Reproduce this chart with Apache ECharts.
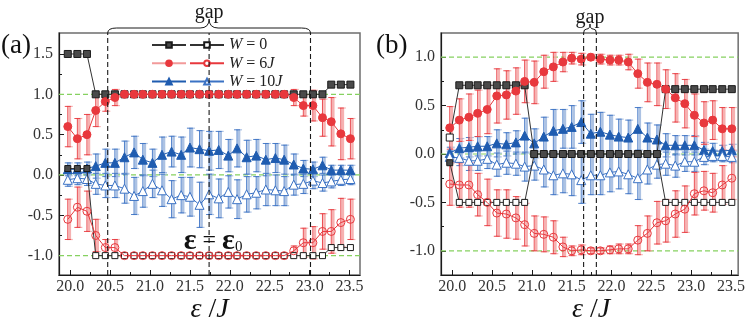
<!DOCTYPE html>
<html><head><meta charset="utf-8">
<script src="https://cdn.jsdelivr.net/npm/echarts@6/dist/echarts.min.js"></script>
<style>html,body{margin:0;padding:0;background:#fff}#c{width:748px;height:319px}</style>
</head><body><div id="c"></div>
<script>
// ---------- data ----------
const xs = [19.97, 20.09, 20.21, 20.32, 20.44, 20.56, 20.68, 20.80, 20.91, 21.03, 21.15, 21.27, 21.39, 21.50, 21.62, 21.74, 21.86, 21.98, 22.09, 22.21, 22.33, 22.45, 22.57, 22.68, 22.80, 22.92, 23.04, 23.16, 23.27, 23.39, 23.51];

// panel (a)
const a_w0_hi = [1.5,1.5,1.5, 1,1,1,1,1,1,1,1,1,1,1,1,1,1,1,1,1,1,1,1,1,1,1,1,1, 1.12,1.12,1.12];
const a_w0_lo = [0.08,0.08,0.08, -1,-1,-1,-1,-1,-1,-1,-1,-1,-1,-1,-1,-1,-1,-1,-1,-1,-1,-1,-1,-1,-1,-1,-1,-1, -0.9,-0.9,-0.9];
const a_w0_loSolid = [0,1,2];
const a_w6_hi = [0.60,0.45,0.50,0.80,0.91,0.96, 1,1,1,1,1,1,1,1,1,1,1,1,1,1,1,1,1,1, 0.96,0.86,0.86,0.71,0.66,0.51,0.45];
const a_w6_hiErr = [0.25,0.25,0.25,0.2,0.12,0.1, 0,0,0,0,0,0,0,0,0,0,0,0,0,0,0,0,0,0, 0.1,0.13,0.19,0.23,0.3,0.32,0.25];
const a_w6_lo = [-0.55,-0.40,-0.45,-0.75,-0.90,-0.90, -1,-1,-1,-1,-1,-1,-1,-1,-1,-1,-1,-1,-1,-1,-1,-1,-1,-1, -0.94,-0.84,-0.84,-0.70,-0.70,-0.59,-0.55];
const a_w6_loErr = [0.25,0.25,0.25,0.2,0.1,0.1, 0,0,0,0,0,0,0,0,0,0,0,0,0,0,0,0,0,0, 0.06,0.18,0.2,0.22,0.27,0.3,0.25];
const a_w10_hi = [0.07,0.07,0.08,0.11,0.15,0.15,0.22,0.28,0.19,0.15,0.25,0.29,0.25,0.34,0.32,0.30,0.31,0.24,0.33,0.22,0.24,0.19,0.21,0.19,0.13,0.08,0.07,0.12,0.06,0.06,0.06];
const a_w10_hiErr = [0.08,0.08,0.08,0.15,0.17,0.17,0.2,0.2,0.2,0.17,0.22,0.19,0.22,0.24,0.23,0.24,0.23,0.2,0.23,0.21,0.2,0.2,0.18,0.18,0.13,0.1,0.09,0.1,0.06,0.06,0.06];
const a_w10_lo = [-0.06,-0.04,-0.05,-0.11,-0.13,-0.13,-0.17,-0.26,-0.20,-0.11,-0.19,-0.30,-0.25,-0.27,-0.37,-0.24,-0.29,-0.21,-0.30,-0.24,-0.22,-0.18,-0.19,-0.20,-0.12,-0.11,-0.07,-0.10,-0.08,-0.06,-0.05];
const a_w10_loErr = [0.08,0.08,0.08,0.13,0.15,0.15,0.18,0.23,0.2,0.17,0.2,0.23,0.22,0.24,0.28,0.25,0.24,0.2,0.24,0.22,0.2,0.2,0.19,0.18,0.13,0.12,0.1,0.1,0.08,0.07,0.07];

// panel (b)
const b_w0_hi = [0.17, 0.71,0.71,0.71,0.71,0.71,0.71,0.71,0.71, 0,0,0,0,0,0,0,0,0,0,0,0,0,0, 0.67,0.67,0.67,0.67,0.67,0.67,0.67,0.67];
const b_w0_hiHollow = [0];
const b_w0_lo = [-0.09, -0.5,-0.5,-0.5,-0.5,-0.5,-0.5,-0.5,-0.5, 0,0,0,0,0,0,0,0,0,0,0,0,0,0, -0.5,-0.5,-0.5,-0.5,-0.5,-0.5,-0.5,-0.5];
const b_w0_loSolid = [0];
const b_w6_hi = [0.27,0.35,0.38,0.42,0.46,0.60,0.61,0.65,0.75,0.74,0.85,0.90,0.95,0.99,0.98,1.0,0.98,0.97,0.97,0.95,0.83,0.74,0.72,0.67,0.58,0.52,0.40,0.32,0.35,0.26,0.26];
const b_w6_hiErr = [0.22,0.22,0.24,0.24,0.25,0.28,0.25,0.24,0.22,0.22,0.17,0.15,0.1,0.06,0.06,0.03,0.05,0.05,0.05,0.08,0.15,0.2,0.22,0.2,0.25,0.25,0.22,0.22,0.2,0.22,0.22];
const b_w6_lo = [-0.31,-0.32,-0.32,-0.42,-0.50,-0.61,-0.62,-0.66,-0.73,-0.82,-0.83,-0.86,-0.96,-1.0,-0.99,-1.0,-1.0,-0.99,-0.98,-0.98,-0.89,-0.82,-0.71,-0.69,-0.62,-0.57,-0.41,-0.38,-0.40,-0.32,-0.25];
const b_w6_loErr = [0.22,0.23,0.23,0.22,0.24,0.24,0.25,0.22,0.22,0.18,0.18,0.17,0.1,0.05,0.05,0.03,0.03,0.04,0.05,0.05,0.15,0.18,0.22,0.22,0.24,0.24,0.22,0.2,0.2,0.2,0.22];
const b_w10_hi = [0.01,0.06,0.07,0.08,0.08,0.11,0.10,0.12,0.19,0.11,0.18,0.24,0.26,0.28,0.33,0.21,0.23,0.20,0.18,0.17,0.26,0.17,0.15,0.09,0.09,0.09,0.09,0.04,0.03,0.03,0.04];
const b_w10_hiErr = [0.06,0.1,0.1,0.1,0.1,0.14,0.12,0.12,0.18,0.15,0.2,0.22,0.2,0.22,0.22,0.2,0.2,0.2,0.18,0.18,0.22,0.15,0.15,0.12,0.1,0.1,0.1,0.08,0.08,0.06,0.06];
const b_w10_lo = [-0.03,-0.04,-0.07,-0.07,-0.05,-0.11,-0.09,-0.10,-0.13,-0.12,-0.16,-0.22,-0.20,-0.21,-0.27,-0.22,-0.22,-0.19,-0.18,-0.21,-0.25,-0.16,-0.11,-0.10,-0.12,-0.08,-0.08,-0.03,-0.02,-0.02,-0.03];
const b_w10_loErr = [0.06,0.08,0.1,0.1,0.1,0.12,0.12,0.12,0.15,0.15,0.18,0.2,0.2,0.22,0.24,0.2,0.2,0.2,0.18,0.2,0.22,0.15,0.14,0.12,0.12,0.1,0.1,0.08,0.06,0.06,0.06];

// ticks and annotations
const xMajor = [20.0,20.5,21.0,21.5,22.0,22.5,23.0,23.5];
const xMinor = [20.25,20.75,21.25,21.75,22.25,22.75,23.25];
const aYMajor = [-1.0,-0.5,0.0,0.5,1.0,1.5];
const aYMinor = [-0.75,-0.25,0.25,0.75,1.25];
const bYMajor = [-1.0,-0.5,0.0,0.5,1.0];
const bYMinor = [-0.75,-0.25,0.25,0.75];
const refLevels = [-1.0, 0.0, 1.0];
const aVLines = [20.47, 21.74, 23.01];
const bVLines = [21.65, 21.81];
const aGap = [20.47, 23.01];
const bGap = [21.65, 21.81];
const aEpsLabel = [21.79, -0.82];
const legendLabels = ['{i|W} = 0', '{i|W} = 6{i|J}', '{i|W} = 10{i|J}'];
const panelLabels = ['(a)', '(b)'];

// ---------- style ----------
const FONT = '"Liberation Serif","DejaVu Serif",serif';
const C = {
  blk: '#4a4a4a', blkLine: '#333', blkEdge: '#1a1a1a',
  red: '#e8383d', redLight: '#f4a3a3', redLegend: '#f29a9a',
  blue: '#1f5cb0', blueLight: '#9db7de', blueOpen: '#3b72c4',
  green: '#86d160', dash: '#1a1a1a'
};

const panels = [
  {xMin:19.86, xMax:23.63, yMin:-1.24, yMax:1.76, yMajor:aYMajor, yMinor:aYMinor, vlines:aVLines,
   w0:[a_w0_hi, a_w0_lo], w0hiHollow:[], w0loSolid:a_w0_loSolid,
   w6:[a_w6_hi, a_w6_hiErr, a_w6_lo, a_w6_loErr], w10:[a_w10_hi, a_w10_hiErr, a_w10_lo, a_w10_loErr]},
  {xMin:19.86, xMax:23.59, yMin:-1.25, yMax:1.25, yMajor:bYMajor, yMinor:bYMinor, vlines:bVLines,
   w0:[b_w0_hi, b_w0_lo], w0hiHollow:b_w0_hiHollow, w0loSolid:b_w0_loSolid,
   w6:[b_w6_hi, b_w6_hiErr, b_w6_lo, b_w6_loErr], w10:[b_w10_hi, b_w10_hiErr, b_w10_lo, b_w10_loErr]}
];
const gridsPos = [{left:59, top:33, width:301, height:242}, {left:441, top:33, width:300, height:242}];

const grid = [], xAxis = [], yAxis = [], series = [];
const fmt = v => Number(v).toFixed(1);

panels.forEach((p, gi) => {
  const pre = gi === 0 ? 'a' : 'b';
  grid.push(Object.assign({show:true, borderColor:'#6e6e6e', borderWidth:1.5, backgroundColor:'transparent'}, gridsPos[gi]));
  xAxis.push({type:'value', gridIndex:gi, min:p.xMin, max:p.xMax, position:'bottom',
    axisLine:{show:true, onZero:false, lineStyle:{color:'#1a1a1a', width:1.2}},
    axisTick:{show:true, inside:true, length:5, customValues:xMajor, lineStyle:{color:'#1a1a1a'}},
    axisLabel:{customValues:xMajor, formatter:fmt, fontFamily:FONT, fontSize:16, color:'#333', margin:4},
    splitLine:{show:false}});
  xAxis.push({type:'value', gridIndex:gi, min:p.xMin, max:p.xMax, position:'bottom',
    axisLine:{show:false, onZero:false}, axisTick:{show:true, inside:true, length:3, customValues:xMinor, lineStyle:{color:'#1a1a1a'}},
    axisLabel:{show:false}, splitLine:{show:false}});
  yAxis.push({type:'value', gridIndex:gi, min:p.yMin, max:p.yMax, position:'left',
    axisLine:{show:true, onZero:false, lineStyle:{color:'#1a1a1a', width:1.2}},
    axisTick:{show:true, inside:true, length:5, customValues:p.yMajor, lineStyle:{color:'#1a1a1a'}},
    axisLabel:{customValues:p.yMajor, formatter:fmt, fontFamily:FONT, fontSize:16, color:'#333', margin:6},
    splitLine:{show:false}});
  yAxis.push({type:'value', gridIndex:gi, min:p.yMin, max:p.yMax, position:'left', offset:0,
    axisLine:{show:false, onZero:false}, axisTick:{show:true, inside:true, length:3, customValues:p.yMinor, lineStyle:{color:'#1a1a1a'}},
    axisLabel:{show:false}, splitLine:{show:false}});

  const xi = gi*2, yi = gi*2;
  // green reference levels
  series.push({type:'custom', xAxisIndex:xi, yAxisIndex:yi, z:1, silent:true, clip:true,
    data: refLevels.map(y => [p.xMin, y]),
    renderItem:(params, api) => { const y = api.value(1); const a = api.coord([p.xMin, y]), b = api.coord([p.xMax, y]);
      return {type:'line', shape:{x1:a[0], y1:a[1], x2:b[0], y2:b[1]}, style:{stroke:C.green, lineWidth:1.2, lineDash:[5,3]}}; }});

  const errSeries = (ys, es, thin, thick) => ({type:'custom', xAxisIndex:xi, yAxisIndex:yi, z:2, silent:true, clip:true,
    data: xs.map((x,i) => [x, ys[i], es[i]]),
    renderItem:(params, api) => {
      const x = api.value(0), y = api.value(1), e = api.value(2);
      if (!(e > 0)) return null;
      const t = api.coord([x, y+e]), b = api.coord([x, y-e]);
      const o = 2;
      return {type:'group', children:[
        {type:'line', shape:{x1:t[0]+o, y1:t[1], x2:b[0]+o, y2:b[1]}, style:{stroke:thick, lineWidth:2.6, opacity:0.85}},
        {type:'line', shape:{x1:t[0]+o-3, y1:t[1], x2:t[0]+o+3, y2:t[1]}, style:{stroke:thick, lineWidth:1.2, opacity:0.85}},
        {type:'line', shape:{x1:b[0]+o-3, y1:b[1], x2:b[0]+o+3, y2:b[1]}, style:{stroke:thick, lineWidth:1.2, opacity:0.85}},
        {type:'line', shape:{x1:t[0], y1:t[1], x2:b[0], y2:b[1]}, style:{stroke:thin, lineWidth:0.9}},
        {type:'line', shape:{x1:t[0]-3, y1:t[1], x2:t[0]+3, y2:t[1]}, style:{stroke:thin, lineWidth:0.9}},
        {type:'line', shape:{x1:b[0]-3, y1:b[1], x2:b[0]+3, y2:b[1]}, style:{stroke:thin, lineWidth:0.9}}
      ]};
    }});
  series.push(errSeries(p.w10[0], p.w10[1], C.blueOpen, C.blueLight));
  series.push(errSeries(p.w10[2], p.w10[3], C.blueOpen, C.blueLight));
  series.push(errSeries(p.w6[0], p.w6[1], C.red, C.redLight));
  series.push(errSeries(p.w6[2], p.w6[3], C.red, C.redLight));

  const lineS = (name, ys, symbol, size, lineColor, itemStyle, z, overrides) => ({
    type:'line', name, xAxisIndex:xi, yAxisIndex:yi, z, symbol, symbolSize:size, showAllSymbol:true,
    animation:false, lineStyle:{color:lineColor, width:1}, itemStyle,
    data: xs.map((x,i) => overrides && overrides[i] ? {value:[x, ys[i]], itemStyle:overrides[i]} : [x, ys[i]])
  });
  const ov = (idxs, style) => { const o = {}; idxs.forEach(i => o[i] = style); return o; };

  series.push(lineS(pre+'_w10f', p.w10[0], 'triangle', 9, C.blue, {color:C.blue, borderColor:C.blue, borderWidth:1}, 3));
  series.push(lineS(pre+'_w10o', p.w10[2], 'triangle', 9, C.blueOpen, {color:'#fff', borderColor:C.blueOpen, borderWidth:1}, 3));
  series.push(lineS(pre+'_w0o', p.w0[1], 'rect', 6, C.blkLine, {color:'#fff', borderColor:C.blkEdge, borderWidth:1}, 4,
    ov(p.w0loSolid, {color:C.blk, borderColor:C.blkEdge, borderWidth:1})));
  series.push(lineS(pre+'_w0f', p.w0[0], 'rect', 7, C.blkLine, {color:C.blk, borderColor:C.blkEdge, borderWidth:1}, 4,
    ov(p.w0hiHollow, {color:'#fff', borderColor:C.blkEdge, borderWidth:1})));
  series.push(lineS(pre+'_w6f', p.w6[0], 'circle', 8, C.red, {color:C.red, borderColor:C.red, borderWidth:1}, 5));
  series.push(lineS(pre+'_w6o', p.w6[2], 'circle', 8, C.red, {color:'rgba(255,255,255,0)', borderColor:C.red, borderWidth:1}, 5));

  // vertical gap lines (on top)
  series.push({type:'custom', xAxisIndex:xi, yAxisIndex:yi, z:6, silent:true, clip:true,
    data: p.vlines.map(x => [x, 0]),
    renderItem:(params, api) => { const x = api.value(0); const a = api.coord([x, p.yMin]), b = api.coord([x, p.yMax]);
      return {type:'line', shape:{x1:a[0], y1:a[1], x2:b[0], y2:b[1]}, style:{stroke:C.dash, lineWidth:1.1, lineDash:[5,3]}}; }});
});

const legendText = {'a_w0o':legendLabels[0], 'a_w6o':legendLabels[1], 'a_w10o':legendLabels[2]};
const legTS = {fontFamily:FONT, fontSize:16, color:'#222', lineHeight:18, rich:{i:{fontStyle:'italic', fontFamily:FONT, fontSize:16, lineHeight:18}}};

const chart = echarts.init(document.getElementById('c'));
chart.setOption({
  animation:false,
  backgroundColor:'#fff',
  grid, xAxis, yAxis, series,
  legend:[
    {data:[{name:'a_w0f'}, {name:'a_w6f', lineStyle:{color:C.redLegend}}, {name:'a_w10f'}], orient:'vertical', left:146, top:31,
     itemWidth:34, itemHeight:7, itemGap:0.3, selectedMode:false, formatter:() => ' ', textStyle:legTS},
    {data:['a_w0o',{name:'a_w6o', itemStyle:{color:'#fff'}},'a_w10o'], orient:'vertical', left:184, top:31,
     itemWidth:34, itemHeight:7, itemGap:0.3, selectedMode:false, formatter:n => legendText[n], textStyle:legTS}
  ]
});

// ---------- annotations placed through the axes ----------
const toPx = (gi, pt) => chart.convertToPixel({xAxisIndex:gi*2, yAxisIndex:gi*2}, pt);
function braceParts(x1, x2, y0, h1, h2) {
  const xm = (x1+x2)/2, r = Math.min(9, (x2-x1)/4);
  const y1 = y0 - h1, yc = y1 - h2;
  const st = {stroke:'#1a1a1a', lineWidth:1, fill:null};
  return [
    {type:'bezierCurve', shape:{x1:x1, y1:y0, x2:x1+r, y2:y1, cpx1:x1, cpy1:y1}, style:st, z:10},
    {type:'line', shape:{x1:x1+r, y1:y1, x2:xm-r, y2:y1}, style:st, z:10},
    {type:'bezierCurve', shape:{x1:xm-r, y1:y1, x2:xm, y2:yc, cpx1:xm, cpy1:y1}, style:st, z:10},
    {type:'bezierCurve', shape:{x1:xm, y1:yc, x2:xm+r, y2:y1, cpx1:xm, cpy1:y1}, style:st, z:10},
    {type:'line', shape:{x1:xm+r, y1:y1, x2:x2-r, y2:y1}, style:st, z:10},
    {type:'bezierCurve', shape:{x1:x2-r, y1:y1, x2:x2, y2:y0, cpx1:x2, cpy1:y1}, style:st, z:10}
  ];
}
const graphic = [];
[[aGap, 0, 5, 9], [bGap, 1, 4, 5]].forEach(([g, gi, h1, h2]) => {
  const L = toPx(gi, [g[0], panels[gi].yMax]), R = toPx(gi, [g[1], panels[gi].yMax]);
  braceParts(L[0], R[0], L[1], h1, h2).forEach(e => graphic.push(e));
  graphic.push({type:'text', x:(L[0]+R[0])/2, y:L[1]-h1-h2+4, style:{text:'gap', font:`20px ${FONT}`, fill:'#1a1a1a', textAlign:'center', textVerticalAlign:'bottom'}, z:10});
});
const ep = toPx(0, aEpsLabel);
graphic.push({type:'text', x:ep[0], y:ep[1], z:10, style:{text:'{e|ε} = {e|ε}{s|0}', textAlign:'center', textVerticalAlign:'middle', fill:'#111',
  font:`24px ${FONT}`, rich:{e:{fontFamily:FONT, fontSize:30, fontWeight:'bold', fill:'#111'}, s:{fontFamily:FONT, fontSize:15, fill:'#111', padding:[12,0,0,0]}}}});
panels.forEach((p, gi) => {
  const g = gridsPos[gi];
  graphic.push({type:'text', x:g.left + g.width/2, y:310, z:10, style:{text:'{i|ε} /{i|J}', textAlign:'center', textVerticalAlign:'middle', fill:'#111',
    font:`28px ${FONT}`, rich:{i:{fontFamily:FONT, fontSize:28, fontStyle:'italic', fill:'#111'}}}});
  graphic.push({type:'text', x:gi === 0 ? 1 : 376, y:46, z:10, style:{text:panelLabels[gi], font:`27px ${FONT}`, fill:'#111', textVerticalAlign:'middle'}});
});
chart.setOption({graphic});
</script></body></html>
